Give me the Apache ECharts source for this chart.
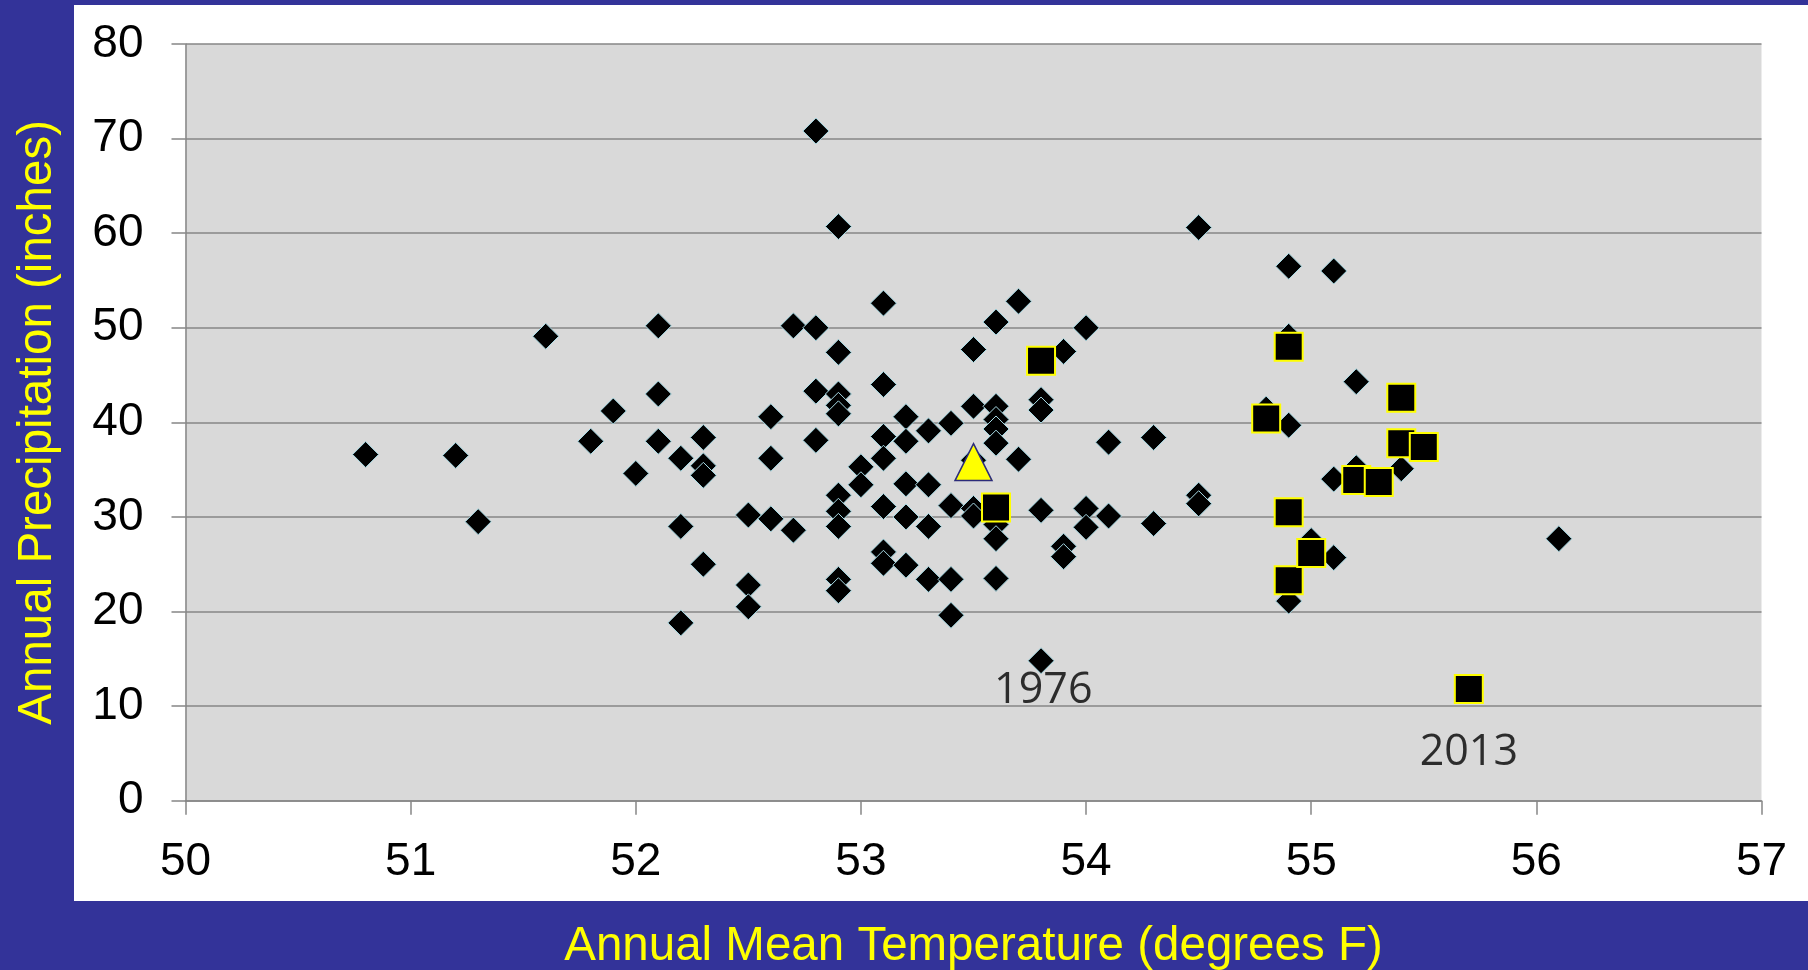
<!DOCTYPE html>
<html>
<head>
<meta charset="utf-8">
<script src="https://cdn.jsdelivr.net/npm/echarts@6/dist/echarts.min.js"></script>
<style>
  html, body { margin:0; padding:0; width:1808px; height:970px; background:#333399; overflow:hidden; }
  #white { position:absolute; left:74px; top:5px; width:1734px; height:896px; background:#ffffff; }
  #chart { position:absolute; left:0; top:0; width:1808px; height:970px; }
</style>
</head>
<body>
<div id="white"></div>
<div id="chart"></div>
<script>
// Axis ticks
const xTicks = [50, 51, 52, 53, 54, 55, 56, 57];
const yTicks = [0, 10, 20, 30, 40, 50, 60, 70, 80];

// All years (diamonds): [temperature F, precipitation in]
const allYears = [
  [50.8,36.6],[51.2,36.5],[51.3,29.5],[51.6,49.1],[51.8,38.0],[51.9,41.2],[52.0,34.6],
  [52.1,50.2],[52.1,43.0],[52.1,38.0],
  [52.2,36.2],[52.2,29.0],[52.2,18.8],
  [52.3,38.4],[52.3,35.4],[52.3,34.4],[52.3,25.0],
  [52.5,30.2],[52.5,22.8],[52.5,20.5],
  [52.6,40.6],[52.6,36.2],[52.6,29.8],
  [52.7,50.2],[52.7,28.6],
  [52.8,70.8],[52.8,50.0],[52.8,43.3],[52.8,38.1],
  [52.9,60.7],[52.9,47.4],[52.9,43.0],[52.9,41.8],[52.9,40.9],[52.9,32.3],[52.9,30.6],[52.9,29.0],[52.9,23.4],[52.9,22.2],
  [53.0,35.3],[53.0,33.4],
  [53.1,52.6],[53.1,44.0],[53.1,38.5],[53.1,36.2],[53.1,31.1],[53.1,26.3],[53.1,25.1],
  [53.2,40.6],[53.2,38.0],[53.2,33.5],[53.2,30.0],[53.2,24.9],
  [53.3,39.1],[53.3,33.4],[53.3,29.0],[53.3,23.4],
  [53.4,39.9],[53.4,31.2],[53.4,23.4],[53.4,19.6],
  [53.5,47.7],[53.5,41.7],[53.5,36.0],[53.5,30.9],[53.5,30.1],
  [53.6,50.6],[53.6,41.7],[53.6,40.3],[53.6,39.3],[53.6,37.8],[53.6,29.2],[53.6,27.7],[53.6,23.5],
  [53.7,52.8],[53.7,36.1],
  [53.8,42.4],[53.8,41.3],[53.8,30.7],[53.8,14.8],
  [53.9,47.5],[53.9,26.9],[53.9,25.8],
  [54.0,50.0],[54.0,30.9],[54.0,28.9],
  [54.1,37.9],[54.1,30.1],
  [54.3,38.4],[54.3,29.3],
  [54.5,60.6],[54.5,32.3],[54.5,31.4],
  [54.8,41.4],
  [54.9,56.5],[54.9,49.1],[54.9,39.7],[54.9,21.1],
  [55.0,27.5],
  [55.1,56.0],[55.1,34.0],[55.1,25.7],
  [55.2,44.3],[55.2,35.2],
  [55.4,35.1],
  [56.1,27.7]
];

// Recent years (squares)
const recentYears = [
  [53.6,31.0],[53.8,46.5],[54.8,40.4],[54.9,48.0],[54.9,30.5],[54.9,23.3],
  [55.0,26.2],[55.2,33.9],[55.3,33.7],[55.4,42.6],[55.4,37.8],[55.5,37.4],[55.7,11.8]
];

// Average (triangle)
const averagePoint = [[53.5,35.8]];

// Year annotations
const annotationNames = ['1976', '2013'];
const annotationPos = [[53.81,11.6],[55.70,5.1]];

const xTitle = 'Annual Mean Temperature (degrees F)';
const yTitle = 'Annual Precipitation (inches)';

const chart = echarts.init(document.getElementById('chart'), null, {renderer:'canvas'});
const gray = '#868686';
const fontMain = '"Liberation Sans", Arial, sans-serif';

chart.setOption({
  backgroundColor: 'transparent',
  animation: false,
  grid: {
    left: 185.5, right: 46.5, top: 44, bottom: 169.3,
    containLabel: false, outerBoundsMode: 'none',
    show: true, backgroundColor: '#d9d9d9', borderWidth: 0
  },
  xAxis: {
    type: 'value', min: xTicks[0], max: xTicks[xTicks.length-1], interval: 1,
    axisLine: { show: true, onZero: false, lineStyle: { color: gray, width: 1.5 } },
    axisTick: { show: true, inside: false, length: 14, lineStyle: { color: gray, width: 1.5 } },
    splitLine: { show: false },
    axisLabel: { color: '#000', fontSize: 46, fontFamily: fontMain, margin: 39, hideOverlap: false, showMinLabel: true, showMaxLabel: true },
    name: xTitle, nameLocation: 'middle', nameGap: 122,
    nameTextStyle: { color: '#ffff00', fontSize: 47.5, fontFamily: fontMain }
  },
  yAxis: {
    type: 'value', min: yTicks[0], max: yTicks[yTicks.length-1], interval: 10,
    axisLine: { show: true, onZero: false, lineStyle: { color: gray, width: 1.5 } },
    axisTick: { show: true, inside: false, length: 14, lineStyle: { color: gray, width: 1.5 } },
    splitLine: { show: true, lineStyle: { color: gray, width: 1.5 } },
    axisLabel: { color: '#000', fontSize: 46, fontFamily: fontMain, margin: 42, padding: [6, 0, 0, 0], hideOverlap: false, showMinLabel: true, showMaxLabel: true },
    name: yTitle, nameLocation: 'middle', nameGap: 124, nameRotate: 90,
    nameTextStyle: { color: '#ffff00', fontSize: 47.5, fontFamily: fontMain }
  },
  series: [
    {
      type: 'scatter', name: 'All years', data: allYears,
      symbol: 'diamond', symbolSize: 26,
      itemStyle: { color: '#000000', borderColor: '#a8dbe6', borderWidth: 1, opacity: 1 },
      z: 2
    },
    {
      type: 'scatter', name: 'Recent', data: recentYears,
      symbol: 'rect', symbolSize: 28,
      itemStyle: { color: '#000000', borderColor: '#ffff00', borderWidth: 2, opacity: 1 },
      z: 3
    },
    {
      type: 'scatter', name: 'Average', data: averagePoint,
      symbol: 'triangle', symbolSize: [37, 37],
      itemStyle: { color: '#ffff00', borderColor: '#2b2b7a', borderWidth: 1.5, opacity: 1 },
      z: 4
    },
    {
      type: 'scatter', name: 'Labels',
      data: annotationPos.map((p, i) => ({ value: p, name: annotationNames[i] })),
      symbol: 'circle', symbolSize: 2,
      itemStyle: { color: 'rgba(0,0,0,0)' },
      label: {
        show: true, position: 'inside', formatter: (p) => p.name,
        color: '#000', fontSize: 43, fontFamily: '"Open Sans", Lato, sans-serif',
        align: 'center', verticalAlign: 'middle'
      },
      z: 5, silent: true
    }
  ]
});
</script>
</body>
</html>
